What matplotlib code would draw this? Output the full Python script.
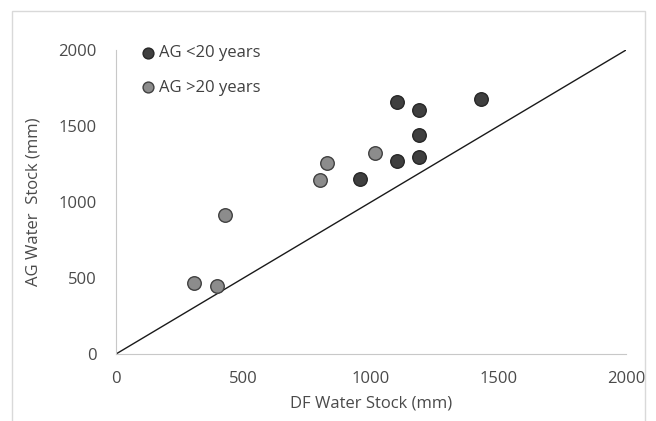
import matplotlib.pyplot as plt
from matplotlib.patches import Rectangle

# AG < 20 years
young_df = [957, 1102, 1102, 1187, 1187, 1187, 1431]
young_ag = [1151, 1658, 1270, 1605, 1441, 1298, 1680]

# AG > 20 years
old_df = [306, 395, 427, 800, 828, 1016]
old_ag = [469, 449, 914, 1145, 1257, 1320]

line_x = [0, 2000]
ticks = [0, 500, 1000, 1500, 2000]

plt.rcParams['font.family'] = ['Open Sans', 'DejaVu Sans']

fig = plt.figure(figsize=(6.56, 4.21), dpi=100)
fig.patches.append(Rectangle((0.0183, -0.05), 0.9649, 1.0239, transform=fig.transFigure,
                             fill=False, edgecolor='#d9d9d9', linewidth=1))
ax = fig.add_axes([0.1768, 0.1591, 0.7775, 0.7221])

ax.plot(line_x, line_x, color='#1a1a1a', linewidth=1, zorder=1)
ax.scatter(young_df, young_ag, s=95, color='#3f3f3f', edgecolors='#262626',
           linewidths=1, label='AG <20 years', zorder=3)
ax.scatter(old_df, old_ag, s=95, color='#8c8c8c', edgecolors='#404040',
           linewidths=1, label='AG >20 years', zorder=3)

ax.set_xlim(0, 2000)
ax.set_ylim(0, 2000)
ax.set_xticks(ticks)
ax.set_yticks(ticks)
ax.tick_params(length=0, labelsize=12, colors='#4a4a4a')
ax.tick_params(axis='y', pad=14)
ax.tick_params(axis='x', pad=12)
for side in ['top', 'right']:
    ax.spines[side].set_visible(False)
for side in ['left', 'bottom']:
    ax.spines[side].set_color('#c8c8c8')

ax.set_xlabel('DF Water Stock (mm)', fontsize=12, color='#4a4a4a', labelpad=6)
ax.set_ylabel('AG Water  Stock (mm)', fontsize=12, color='#4a4a4a', labelpad=12)

ax.legend(loc='upper left', bbox_to_anchor=(0.015, 1.065), frameon=False,
          fontsize=12, labelcolor='#404040', handletextpad=0.1, handlelength=1.1,
          labelspacing=1.1, markerscale=0.8)

plt.savefig('out.png', dpi=100)
